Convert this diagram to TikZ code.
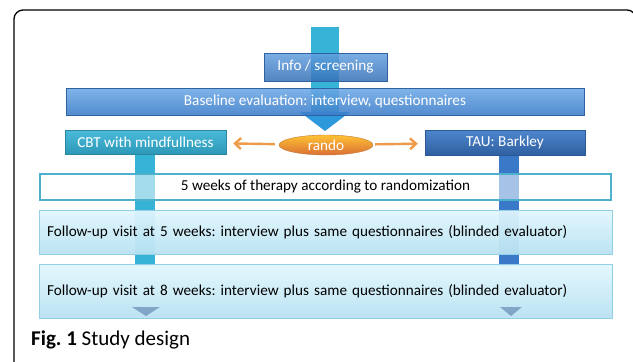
\documentclass[tikz,border=0pt]{standalone}
\usepackage{fontspec}
\setmainfont{Carlito}
\usetikzlibrary{arrows.meta,shapes.geometric}
\frenchspacing

\definecolor{shaftcyan}{HTML}{36B3D7}
\definecolor{shaftblue}{HTML}{3A78C8}
\definecolor{ranorange}{HTML}{EE9A4B}
\definecolor{weekline}{HTML}{4DB1CD}
\definecolor{fuline}{HTML}{93CFE5}
\definecolor{futop}{HTML}{E2F6FD}
\definecolor{fubottom}{HTML}{B8E2F2}
\definecolor{basetop}{HTML}{6EAAE6}
\definecolor{basebottom}{HTML}{3A7BC8}

\begin{document}
\begin{tikzpicture}[x=1pt,y=-1pt,
    box/.style={rectangle, inner sep=0pt, text=white, text opacity=1,
        font=\fontsize{15.2}{18}\selectfont},
    fubox/.style={rectangle, draw=fuline, line width=.8pt, top color=futop, bottom color=fubottom,
        fill opacity=.95, text opacity=1, text=black, inner xsep=8pt, inner ysep=0pt,
        text width=557pt, align=left, font=\fontsize{15.2}{18}\selectfont},
    orarrow/.style={draw=ranorange, line width=2.4pt, -{Straight Barb[length=6pt,width=11pt]}}]
    \useasboundingbox (0,0) rectangle (633,362);
    \draw[line width=1.3pt, rounded corners=9pt] (14,10) rectangle (636,372);

    % arrow shafts behind the boxes
    \fill[shaftcyan] (311,27) rectangle (339,113);
    \fill[shaftcyan!85!blue] (300,112) -- (350,112) -- (325,131) -- cycle;
    \fill[shaftcyan] (135,150) rectangle (155,266);
    \fill[shaftblue] (499,150) rectangle (519,266);

    \node[box, minimum width=123pt, minimum height=28pt, fill opacity=.85,
        top color=basetop!80!basebottom, bottom color=basebottom!90!black,
        draw=basebottom!80!black] (info) at (325.5,67) {Info / screening};
    \node[box, minimum width=518pt, minimum height=27pt, fill opacity=.88,
        top color=basetop, bottom color=basebottom,
        draw=basebottom!80!black] (base) at (325,101.5) {Baseline evaluation: interview, questionnaires};

    \node[box, minimum width=161pt, minimum height=24pt,
        top color=shaftcyan!90!white, bottom color=shaftcyan!85!black,
        draw=shaftcyan!75!black] (cbt) at (145.5,142) {CBT with mindfullness};
    \node[box, minimum width=160pt, minimum height=25pt,
        top color=shaftblue!90!white, bottom color=shaftblue!80!black,
        draw=shaftblue!75!black] (tau) at (505,142.5) {TAU: Barkley};
    \node[box, ellipse, minimum width=94pt, minimum height=20pt,
        top color=orange!60!yellow!80!white, bottom color=ranorange!80!red!90!black,
        draw=ranorange!80!black] (rando) at (326,145) {rando};
    \draw[orarrow, shorten <=4pt, shorten >=7pt] (rando) -- (cbt);
    \draw[orarrow, shorten <=2pt, shorten >=7pt] (rando) -- (tau);

    \node[rectangle, draw=weekline, line width=1.3pt, fill=white, fill opacity=.55, text opacity=1,
        minimum width=571pt, minimum height=26pt, font=\fontsize{15.2}{18}\selectfont]
        (weeks) at (325.5,187) {5 weeks of therapy according to randomization};

    \node[fubox, minimum height=44pt] (fu5) at (325.5,232)
        {Follow-up visit at 5 weeks: interview plus same questionnaires (blinded evaluator)};
    \node[fubox, minimum height=54pt] (fu8) at (325.5,291)
        {Follow-up visit at 8 weeks: interview plus same questionnaires (blinded evaluator)};
    \fill[shaftblue!60!gray, opacity=.6] (132,307) -- (160,307) -- (146,316) -- cycle;
    \fill[shaftblue!60!gray, opacity=.6] (500,307) -- (522,307) -- (511,316) -- cycle;

    \node[anchor=west, inner sep=0pt, font=\fontsize{21}{24}\selectfont] (caption) at (31,340)
        {\textbf{Fig. 1} Study design};
\end{tikzpicture}
\end{document}
